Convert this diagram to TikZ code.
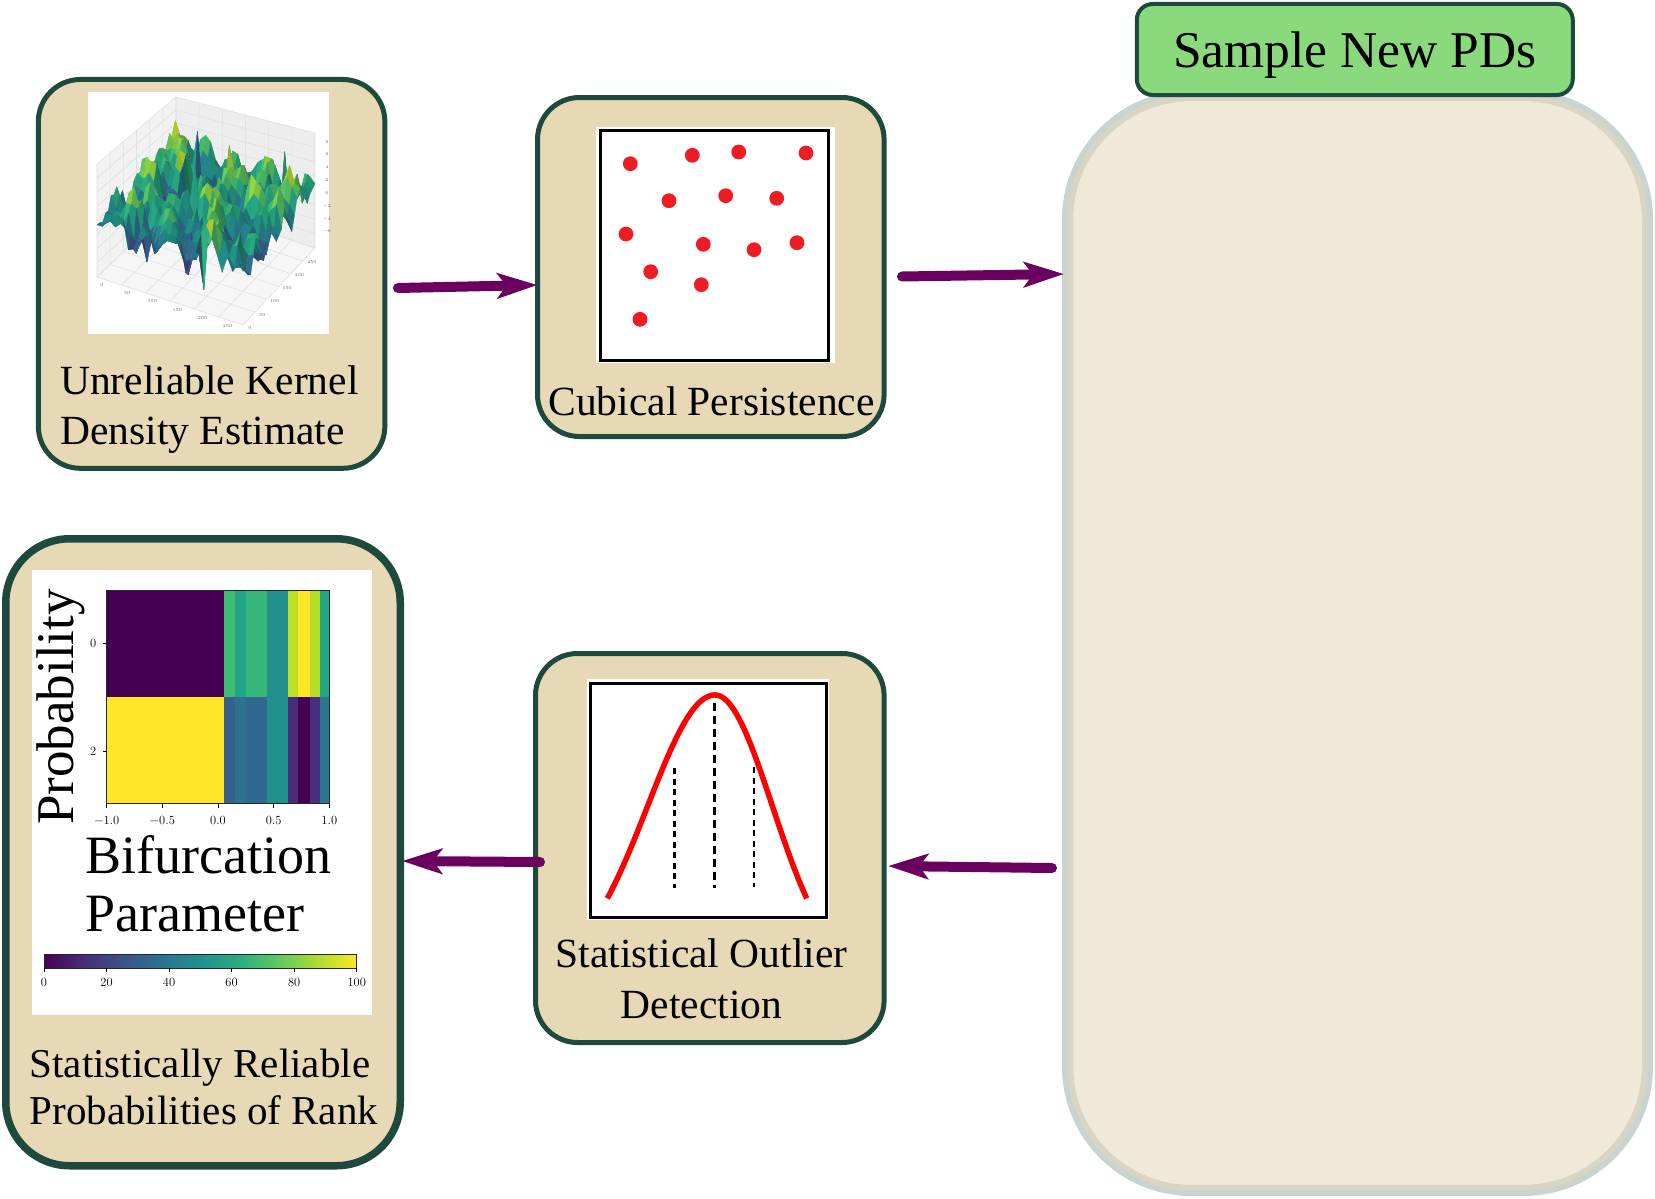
\documentclass[tikz,border=0pt]{standalone}
\usepackage{fontspec}
\newfontfamily\tms{Liberation Serif}
\usetikzlibrary{arrows.meta}

\definecolor{boxfill}{HTML}{E7D9B6}
\definecolor{boxline}{HTML}{1D4A3D}
\definecolor{poolfill}{HTML}{F1E9D8}
\definecolor{poolouter}{HTML}{C9D3D0}
\definecolor{poolinner}{HTML}{D9D5C5}
\definecolor{tagfill}{HTML}{8AD97D}
\definecolor{flow}{HTML}{6B005F}
\definecolor{dotred}{HTML}{EE1D24}
\definecolor{paneL}{HTML}{F2F2F2}
\definecolor{paneR}{HTML}{EDEDED}
\definecolor{floorc}{HTML}{F6F6F6}
% viridis stops
\definecolor{vir0}{HTML}{440154}
\definecolor{vir1}{HTML}{472D7B}
\definecolor{vir2}{HTML}{3B528B}
\definecolor{vir3}{HTML}{2C728E}
\definecolor{vir4}{HTML}{21918C}
\definecolor{vir5}{HTML}{28AE80}
\definecolor{vir6}{HTML}{5EC962}
\definecolor{vir7}{HTML}{ADDC30}
\definecolor{vir8}{HTML}{FDE725}
% the path box is mapped onto the 25bp--75bp part of a shading
\pgfdeclarehorizontalshading{viridis}{100bp}{color(0bp)=(vir0); color(25bp)=(vir0); color(31.25bp)=(vir1); color(37.5bp)=(vir2); color(43.75bp)=(vir3); color(50bp)=(vir4); color(56.25bp)=(vir5); color(62.5bp)=(vir6); color(68.75bp)=(vir7); color(75bp)=(vir8); color(100bp)=(vir8)}

% colour of a surface patch from its height
\newcommand\setvir[1]{%
  \pgfmathsetmacro\vt{8*max(0,min(0.999,(#1-0.2)/0.6))}%
  \pgfmathtruncatemacro\vk{floor(\vt)}%
  \pgfmathtruncatemacro\vkk{\vk+1}%
  \pgfmathsetmacro\vp{100*(1-\vt+\vk)}%
  \colorlet{pc}{vir\vk!\vp!vir\vkk}%
}
% oblique projection of a point (u,v,z) of the 3d box
\newcommand\projpt[3]{%
  \pgfmathsetmacro\pw{(1-#1)*(1-#2)}%
  \pgfmathsetmacro\pa{#1*(1-#2)}%
  \pgfmathsetmacro\pb{(1-#1)*#2}%
  \pgfmathsetmacro\pd{#1*#2}%
  \pgfmathsetmacro\px{\pw*176+\pa*97+\pb*315+\pd*243}%
  \pgfmathsetmacro\py{\pw*201+\pa*277+\pb*248+\pd*325-(#3)*(\pw*104+\pa*113+\pb*115+\pd*120)}%
}
\newcommand\hz[2]{\csname hz-#1-#2\endcsname}
\newcommand\rw[2]{\csname rw-#1-#2\endcsname}

\begin{document}
\begin{tikzpicture}[x=1pt,y=-1pt,
  stage/.style={draw=boxline, fill=boxfill, line width=5pt, rounded corners=42pt, outer sep=0pt, inner sep=0pt},
  flowarrow/.style={draw=flow, line width=10pt, line cap=round, -{Stealth[length=40pt,width=25pt,inset=9pt]}},
  lbl/.style={font=\tms\fontsize{41.5}{50.6}\selectfont, inner sep=0pt},
  ticklbl/.style={font=\fontsize{12.5}{14}\selectfont, inner sep=0pt},
  axlbl/.style={font=\fontsize{4.5}{5}\selectfont, text=black!60, inner sep=0pt},
  paneline/.style={draw=black!12, line width=0.6pt},
]
\useasboundingbox (0,0) rectangle (1655,1199);

% ---------- large pool on the right and its tag ----------
\node[draw=poolouter, fill=poolfill, line width=11pt, rounded corners=124pt,
      minimum width=580pt, minimum height=1095pt, outer sep=0pt, inner sep=0pt] (pool) at (1357.5,643) {};
\draw[poolinner, line width=5.5pt, rounded corners=121pt]
  ([xshift=2.75pt,yshift=-2.75pt]pool.north west) rectangle ([xshift=-2.75pt,yshift=2.75pt]pool.south east);
\node[draw=boxline, fill=tagfill, line width=4pt, rounded corners=16pt,
      minimum width=436pt, minimum height=91pt, outer sep=0pt, inner sep=0pt, text depth=0pt,
      font=\tms\fontsize{51.5}{60}\selectfont] (tag) at (1354.75,49.5) {Sample New PDs};

% ---------- stage boxes ----------
\node[stage, minimum width=346.5pt, minimum height=388.8pt] (kde) at (211.6,273.9) {};
\node[stage, minimum width=346.6pt, minimum height=339pt] (cubical) at (710.8,267) {};
\node[stage, minimum width=348.6pt, minimum height=389pt] (outlier) at (709.8,848) {};
\node[stage, line width=7.5pt, rounded corners=64pt, minimum width=394.5pt, minimum height=627pt] (result) at (203,852.25) {};

% ---------- surface plot of the kernel density estimate ----------
\fill[white] (88,92) rectangle (329,334);
\coordinate (BB) at (176,201); \coordinate (LB) at (97,277);
\coordinate (RB) at (315,248); \coordinate (FB) at (243,325);
\coordinate (BT) at (176,97);  \coordinate (LT) at (97,164);
\coordinate (RT) at (315,133);
\fill[paneL] (BB) -- (LB) -- (LT) -- (BT) -- cycle;
\fill[paneR] (BB) -- (RB) -- (RT) -- (BT) -- cycle;
\fill[floorc] (BB) -- (LB) -- (FB) -- (RB) -- cycle;
\foreach \k in {0,...,6}{
  \pgfmathsetmacro\kk{\k/6}
  \projpt{\kk}{1}{0}\coordinate (ga) at (\px,\py);
  \projpt{\kk}{0}{0}\coordinate (gb) at (\px,\py);
  \projpt{\kk}{0}{1}\coordinate (gc) at (\px,\py);
  \draw[paneline] (ga) -- (gb) -- (gc);
  \projpt{1}{\kk}{0}\coordinate (ga) at (\px,\py);
  \projpt{0}{\kk}{0}\coordinate (gb) at (\px,\py);
  \projpt{0}{\kk}{1}\coordinate (gc) at (\px,\py);
  \draw[paneline] (ga) -- (gb) -- (gc);
}
\foreach \k in {0,...,8}{
  \pgfmathsetmacro\kk{\k/8}
  \projpt{1}{0}{\kk}\coordinate (ga) at (\px,\py);
  \projpt{0}{0}{\kk}\coordinate (gb) at (\px,\py);
  \projpt{0}{1}{\kk}\coordinate (gc) at (\px,\py);
  \draw[paneline] (ga) -- (gb) -- (gc);
}
% random height field, smoothed over 3x3 neighbourhoods
\pgfmathsetseed{4242}
\foreach \i in {0,...,30}{
  \foreach \j in {0,...,30}{
    \pgfmathsetmacro\rr{rand}
    \expandafter\xdef\csname rw-\i-\j\endcsname{\rr}
  }
}
\foreach \i [evaluate=\i as \a using int(\i+1), evaluate=\i as \b using int(\i+2)] in {0,...,28}{
  \foreach \j [evaluate=\j as \c using int(\j+1), evaluate=\j as \d using int(\j+2)] in {0,...,28}{
    \pgfmathsetmacro\zz{0.52+0.05*(\rw{\i}{\j}+\rw{\a}{\j}+\rw{\b}{\j}+\rw{\i}{\c}+\rw{\a}{\c}+\rw{\b}{\c}+\rw{\i}{\d}+\rw{\a}{\d}+\rw{\b}{\d})+0.09*\rw{\a}{\c}}
    \expandafter\xdef\csname hz-\i-\j\endcsname{\zz}
  }
}
\foreach \i/\j/\h in {3/6/0.82,6/14/0.86,15/12/0.84,4/24/0.88,11/21/0.8,25/8/0.18,27/20/0.16,21/4/0.22}{
  \expandafter\xdef\csname hz-\i-\j\endcsname{\h}
}
\foreach \i in {0,...,28}{
  \foreach \j in {0,...,28}{
    \pgfmathsetmacro\uu{\i/28}
    \pgfmathsetmacro\vv{\j/28}
    \projpt{\uu}{\vv}{\hz{\i}{\j}}
    \coordinate (s-\i-\j) at (\px,\py);
  }
}
\foreach \i [evaluate=\i as \ii using int(\i+1)] in {0,...,27}{
  \foreach \j [evaluate=\j as \jj using int(\j+1)] in {0,...,27}{
    \pgfmathsetmacro\zm{(\hz{\i}{\j}+\hz{\ii}{\j}+\hz{\i}{\jj}+\hz{\ii}{\jj})/4}
    \pgfmathsetmacro\lit{max(66,min(100,90+45*(\hz{\i}{\jj}+\hz{\ii}{\jj}-\hz{\i}{\j}-\hz{\ii}{\j})-30*(\hz{\ii}{\j}+\hz{\ii}{\jj}-\hz{\i}{\j}-\hz{\i}{\jj})))}
    \setvir{\zm}
    \colorlet{pc}{pc!\lit!black}
    \filldraw[fill=pc, draw=pc, line width=0.3pt, line join=round]
      (s-\i-\j) -- (s-\ii-\j) -- (s-\ii-\jj) -- (s-\i-\jj) -- cycle;
  }
}
% axis numbers
\foreach \v/\t in {0/0,0.172/50,0.344/100,0.516/150,0.688/200,0.86/250}{
  \projpt{1}{\v}{0}
  \node[axlbl] at (\px+5,\py+8) {\t};
}
\foreach \u/\t in {1/0,0.828/50,0.656/100,0.484/150,0.312/200,0.14/250}{
  \projpt{\u}{1}{0}
  \node[axlbl] at (\px+7,\py+3) {\t};
}
\foreach \n [count=\c from 0] in {8,6,4,2,0,−2,−4,−6}{
  \node[axlbl] at (327,141.7+12.8*\c) {\n};
}

% ---------- persistence diagram ----------
\fill[white] (596,127) rectangle (835,363);
\draw[line width=3pt] (600.7,130) rectangle (828.7,360);
\foreach \dx/\dy in {630.3/163.7,692.3/155.3,738.7/152,806/153,669/200.7,725.7/195.7,776.7/198.3,
                     626/234,703.3/244.3,754/249.7,797/242.7,650.7/271.7,701.3/284.7,640/319.3}{
  \fill[dotred] (\dx,\dy) circle[radius=7.4pt];
}

% ---------- outlier test curve ----------
\fill[white] (587,679) rectangle (829,920);
\draw[line width=3pt] (590.7,683.3) rectangle (826.7,917.3);
\draw[red, line width=5.5pt, line join=round]
  plot[domain=-107.7:91.7, samples=120] ({715+\x},{976.7-281.7*exp(-(\x*\x)/(\x<0 ? 9058 : 6567))});
\draw[line width=3pt, dash pattern=on 8pt off 5pt] (714,703.3) -- (714,888.3);
\draw[line width=2.4pt, dash pattern=on 6pt off 4.5pt] (674.3,768.3) -- (674.3,888.3);
\draw[line width=2.4pt, dash pattern=on 6pt off 4.5pt] (753.7,767) -- (753.7,886.7);

% ---------- probability heat map ----------
\fill[white] (31.7,570) rectangle (371.5,1015);
\foreach \xa/\xb/\ct/\cb in {106.7/224/440154/FDE725, 224/235.3/3DBC74/355F8D, 235.3/245.7/20A386/2C728E,
    245.7/267/35B779/31688E, 267/288.3/21908D/21918C, 288.3/298.3/BDDF26/472D7B,
    298.3/310/FDE725/440154, 310/320/B5DE2B/46307E, 320/329.3/22A785/2A788E}{
  \definecolor{ctop}{HTML}{\ct}\definecolor{cbot}{HTML}{\cb}
  \fill[ctop] (\xa,590) rectangle (\xb,696.7);
  \fill[cbot] (\xa,696.7) rectangle (\xb,803.3);
}
\draw[line width=0.8pt, black!85] (106.7,590) rectangle (329.3,803.3);
\foreach \tx/\tl in {106.7/−1.0,162.3/−0.5,218/0.0,273.7/0.5,329.3/1.0}{
  \draw[line width=0.7pt] (\tx,803.3) -- (\tx,807.5);
  \node[ticklbl] at (\tx,820) {\tl};
}
\foreach \ty/\tl in {643.7/0,751/2}{
  \draw[line width=0.7pt] (106.7,\ty) -- (102.5,\ty);
  \node[ticklbl] at (93.3,\ty) {\tl};
}
\node[font=\tms\fontsize{53}{60}\selectfont, rotate=90, anchor=base, inner sep=0pt] (ylab) at (73.3,707) {Probability};
\node[font=\tms\fontsize{54}{60}\selectfont, anchor=base west, inner sep=0pt] (xlab1) at (85,873.3) {Bifurcation};
\node[font=\tms\fontsize{54}{60}\selectfont, anchor=base west, inner sep=0pt] (xlab2) at (85,931.7) {Parameter};
\shade[shading=viridis] (44,954) rectangle (356.7,968.3);
\draw[line width=0.8pt, black!85] (44,954) rectangle (356.7,968.3);
\foreach \c [count=\n from 0] in {0,20,40,60,80,100}{
  \draw[line width=0.7pt] (44+62.54*\n,968.3) -- (44+62.54*\n,972);
  \node[ticklbl] at (44+62.54*\n,982) {\c};
}

% ---------- stage captions ----------
\node[lbl, align=left, anchor=west] (kdetxt) at (60,409.5) {Unreliable Kernel\\Density Estimate};
\node[lbl] (cubtxt) at (711.5,401) {Cubical Persistence};
\node[lbl, align=center] (outtxt) at (701.5,978.5) {Statistical Outlier\\Detection};
\node[lbl, font=\tms\fontsize{41}{46.4}\selectfont, align=left, anchor=west] (restxt) at (29.5,1087) {Statistically Reliable\\Probabilities of Rank};

% ---------- flow arrows ----------
\draw[flowarrow] ([xshift=13.1pt,yshift=-14.1pt]kde.east) -- ([yshift=-18pt]cubical.west);
\draw[flowarrow] ([xshift=17.9pt,yshift=-9.5pt]cubical.east) -- ([xshift=-3.5pt,yshift=369pt]pool.west);
\draw[flowarrow] ([xshift=-15.5pt,yshift=-225pt]pool.west) -- ([xshift=3.9pt,yshift=-18pt]outlier.east);
\draw[flowarrow] ([xshift=4.5pt,yshift=-14pt]outlier.west) -- ([xshift=1.75pt,yshift=-8.75pt]result.east);
\end{tikzpicture}
\end{document}
